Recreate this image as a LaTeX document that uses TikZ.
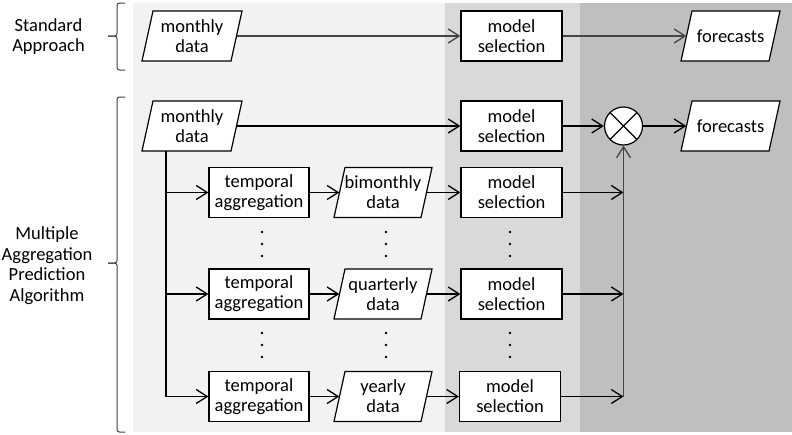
\documentclass[tikz,border=0pt]{standalone}
\usepackage{fontspec}
\setmainfont{Carlito}
\usetikzlibrary{arrows.meta,calc}
\definecolor{bgA}{HTML}{F2F2F2}
\definecolor{bgB}{HTML}{D9D9D9}
\definecolor{bgC}{HTML}{BFBFBF}
\definecolor{lineg}{HTML}{454545}
\definecolor{bracec}{HTML}{404040}
\tikzset{
  txt/.style={font=\fontsize{18.5}{20}\selectfont, align=center, inner sep=0pt},
  boxnode/.style={txt, draw, fill=white, line width=1.2pt, minimum width=101pt, minimum height=50pt},
  datatxt/.style={txt, minimum height=50pt},
  databox/.style={draw, fill=white, line width=1.2pt, line join=miter},
  arr/.style={line width=1.2pt, -{Straight Barb[length=11pt,width=14pt,line width=1.3pt]}},
  arrg/.style={arr, draw=lineg},
  brc/.style={draw=bracec, line width=1pt, rounded corners=2.5pt},
  dotc/.style={fill=black}
}
\newcommand{\mkdata}[5]{%
  \draw[databox] ({#2-#4-5.5},{#3+25}) -- ({#2-#4+5.5},{#3-25}) -- ({#2+#4+5.5},{#3-25}) -- ({#2+#4-5.5},{#3+25}) -- cycle;
  \node[datatxt, minimum width={2*#4pt}] (#1) at (#2,#3) {#5};
}
\begin{document}
\begin{tikzpicture}[x=1pt,y=-1pt]
\useasboundingbox (0,0) rectangle (792,434);
\fill[white] (0,0) rectangle (792,434);
\fill[bgA] (133,3) rectangle (445,432);
\fill[bgB] (445,3) rectangle (580,432);
\fill[bgC] (580,3) rectangle (792,432);

% braces
\draw[brc] (125,3) -| (117,36) -- (108,36);
\draw[brc] (108,36) -- (117,36) |- (125,70);
\draw[brc] (125,97) -| (117,263) -- (108,263);
\draw[brc] (108,263) -- (117,263) |- (125,432);

% labels
\node[txt] (lblA) at (48.5,36.5) {Standard\\Approach};
\node[txt, font=\fontsize{18.5}{20.5}\selectfont] (lblB) at (47,265.5) {Multiple\\Aggregation\\Prediction\\Algorithm};

% row A
\mkdata{sd}{192}{36}{44.5}{monthly\\data}
\node[boxnode] (sm) at (511.5,36) {model\\selection};
\mkdata{sf}{730.5}{36}{44}{forecasts}
\draw[arrg] (sd.east) -- (sm.west);
\draw[arrg] (sm.east) -- (sf.west);

% row B
\mkdata{md}{192}{126}{44.5}{monthly\\data}
\node[boxnode] (mm) at (511.5,126) {model\\selection};
\node[circle, draw, fill=white, line width=1.2pt, minimum size=38pt, inner sep=0pt,
  path picture={\draw[line width=1.2pt] (path picture bounding box.north west) -- (path picture bounding box.south east) (path picture bounding box.south west) -- (path picture bounding box.north east);}] (mx) at (623.5,126) {};
\mkdata{mf}{730.5}{126}{44}{forecasts}
\draw[arr] (md.east) -- (mm.west);
\draw[arr] (mm.east) -- (mx.west);
\draw[arr] (mx.east) -- (mf.west);

% rows C D E
\node[boxnode, minimum width=100pt] (ta1) at (259,192.5) {temporal\\aggregation};
\mkdata{d1}{383}{192.5}{43.5}{bimonthly\\data}
\node[boxnode] (ms1) at (511.5,192.5) {model\\selection};

\node[boxnode, minimum width=100pt] (ta2) at (259,294) {temporal\\aggregation};
\mkdata{d2}{383}{294}{43.5}{quarterly\\data}
\node[boxnode] (ms2) at (511.5,294) {model\\selection};

\node[boxnode, minimum width=100pt] (ta3) at (259,396.5) {temporal\\aggregation};
\mkdata{d3}{383}{396.5}{43.5}{yearly\\data}
\node[boxnode] (ms3) at (510,396.5) {model\\selection};

% trunk and branches
\draw[arr] ([xshift=-26pt]md.south) |- (ta1.west);
\draw[arr] ([xshift=-26pt]md.south) |- (ta2.west);
\draw[arr] ([xshift=-26pt]md.south) |- (ta3.west);
\foreach \i in {1,2,3}{
  \draw[arr] (ta\i.east) -- (d\i.west);
  \draw[arr] (d\i.east) -- (ms\i.west);
  \draw[arr] (ms\i.east) -- (ms\i.east -| mx.center);
}
\draw[arrg, line width=1.5pt] (ms3.east -| mx.center) -- (mx.south);

% vertical ellipses
\foreach \x in {262,386,510}{
  \foreach \y in {232,244,256,333,345,357}{
    \fill[dotc] (\x,\y) circle (1.4pt);
  }
}
\end{tikzpicture}
\end{document}
